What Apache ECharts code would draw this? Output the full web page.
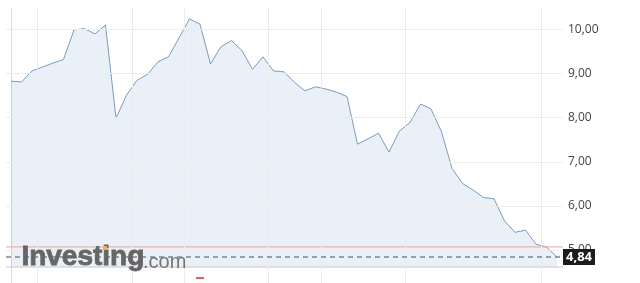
<!DOCTYPE html>
<html>
<head>
<meta charset="utf-8">
<script src="https://cdn.jsdelivr.net/npm/echarts@6/dist/echarts.min.js"></script>
<style>
html,body{margin:0;padding:0;background:#fff;}
#c{width:640px;height:283px;}
</style>
</head>
<body>
<div id="c"></div>
<script>
// ---- data ----
var prices = [8.83,8.81,9.06,9.15,9.24,9.32,9.99,10.02,9.90,10.10,
              7.99,8.51,8.85,8.98,9.27,9.38,9.81,10.24,10.12,9.22,
              9.61,9.75,9.52,9.10,9.38,9.06,9.04,8.80,8.61,8.70,
              8.65,8.58,8.48,7.40,7.52,7.65,7.22,7.70,7.89,8.31,
              8.20,7.68,6.85,6.51,6.36,6.19,6.16,5.66,5.40,5.45,
              5.13,5.07,4.84];
var yTicks = [5, 6, 7, 8, 9, 10];
var xGridTicks = [2.5, 11.57, 16.5, 24.52, 29.59, 37.59, 50.54];
var prevClose = 5.07;
var lastPrice = 4.84;
var plotBottomValue = 4.6145;
var xMin = -0.476, xMax = 52.57;

var seriesData = prices.map(function (v, i) { return [i, v]; });
function fmt(v) { return v.toFixed(2).replace('.', ','); }

function flatLine(value, color, width, z) {
  return {
    type: 'line', silent: true, z: z, showSymbol: false, symbol: 'none',
    data: [[xMin, value], [xMax, value]],
    lineStyle: {color: color, width: width, type: 'solid'}
  };
}

var chart = echarts.init(document.getElementById('c'), null, {renderer: 'canvas'});
chart.setOption({
  animation: false,
  backgroundColor: '#ffffff',
  grid: {left: 6, right: 77, top: 8, bottom: 0},
  xAxis: {
    type: 'value', min: xMin, max: xMax,
    show: false, splitLine: {show: false}
  },
  yAxis: {
    type: 'value', position: 'right', min: 4.2517, max: 10.4875, splitNumber: 6,
    axisLine: {show: true, lineStyle: {color: '#dcdcdc', width: 1}},
    axisTick: {show: false},
    splitLine: {show: false},
    axisLabel: {
      customValues: yTicks,
      margin: 5,
      color: '#444',
      fontSize: 12,
      fontFamily: 'Open Sans',
      formatter: function (v) { return fmt(v); }
    }
  },
  series: [
    {
      type: 'line', data: [], silent: true, z: 1,
      markLine: {
        silent: true, symbol: 'none', animation: false,
        label: {show: false},
        lineStyle: {color: '#ececec', width: 1, type: 'solid'},
        data: xGridTicks.map(function (x) { return {xAxis: x}; })
          .concat(yTicks.map(function (y) { return {yAxis: y}; }))
      }
    },
    {
      type: 'line', data: seriesData, z: 2,
      showSymbol: false, symbol: 'none',
      lineStyle: {color: '#7a9cbc', width: 1},
      areaStyle: {color: 'rgba(120,160,200,0.22)', origin: plotBottomValue}
    },
    flatLine(plotBottomValue, '#c8c8c8', 1, 3),
    flatLine(prevClose, '#eca3a3', 1, 3),
    {
      type: 'line', data: [], silent: true, z: 4,
      markLine: {
        silent: true, symbol: 'none', animation: false,
        lineStyle: {color: '#80868c', width: 1.5, type: [5, 4]},
        label: {
          show: true, position: 'end', distance: 0,
          formatter: fmt(lastPrice),
          backgroundColor: '#1c1c1c', color: '#fff', fontSize: 13, fontWeight: 'bold',
          fontFamily: 'Open Sans', padding: [2, 3, 1, 3]
        },
        data: [{yAxis: lastPrice}]
      }
    }
  ],
  graphic: [
    {type: 'text', left: 21, top: 243, z: 10,
      style: {text: 'Investing', fill: '#666666', stroke: '#666666', lineWidth: 0.8,
        font: 'bold 28px "Liberation Sans", Arial, sans-serif'}},
    {type: 'text', left: 143, top: 252, z: 10,
      style: {text: '.com', fill: '#777777', font: '20px "Liberation Sans", Arial, sans-serif'}},
    {type: 'rect', left: 103, top: 246, z: 11, shape: {width: 4, height: 4}, style: {fill: '#f0b455'}},
    {type: 'rect', left: 196, top: 277, z: 10, shape: {width: 8, height: 2}, style: {fill: '#d9605e'}}
  ]
});
</script>
</body>
</html>
